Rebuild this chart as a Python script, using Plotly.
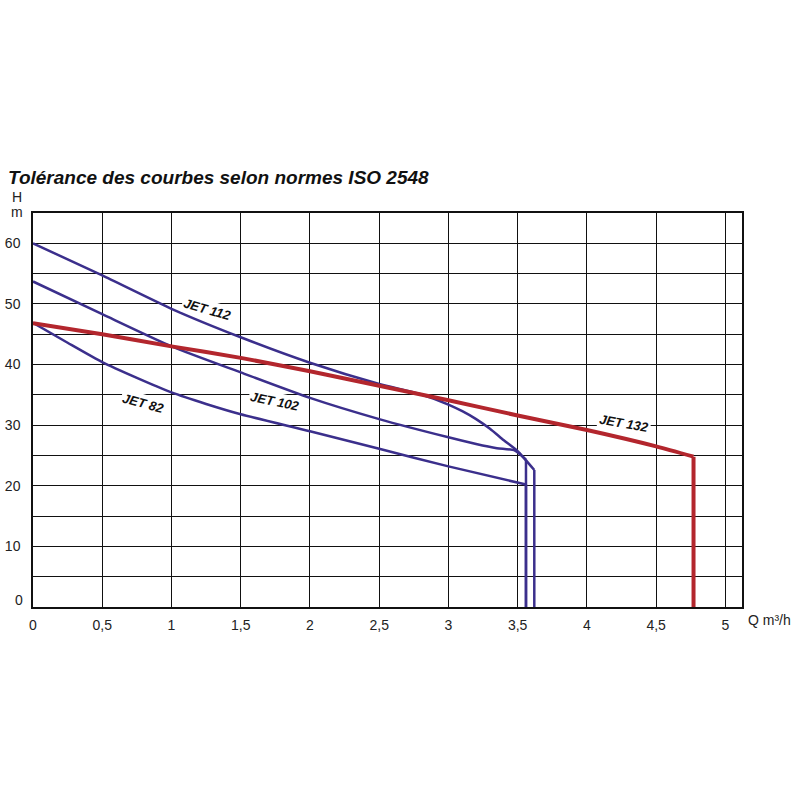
import plotly.graph_objects as go

# Q (m3/h) and H (m)
q_jet82 = [0, 0.25, 0.5, 0.75, 1, 1.25, 1.5, 2, 2.5, 3, 3.56, 3.56]
h_jet82 = [46.9, 43.6, 40.4, 37.8, 35.4, 33.5, 31.8, 29.0, 26.1, 23.2, 20.2, 0]

q_jet102 = [0, 0.5, 1, 1.5, 2, 2.5, 3, 3.2, 3.35, 3.48, 3.56, 3.56]
h_jet102 = [53.7, 48.3, 43, 38.7, 34.5, 31, 28, 26.9, 26.2, 25.8, 24.3, 0]

q_jet112 = [0, 0.5, 1, 1.5, 2, 2.5, 2.8, 3.0, 3.1, 3.2, 3.3, 3.4, 3.5, 3.62, 3.62]
h_jet112 = [60, 54.7, 49.2, 44.5, 40.3, 36.8, 35.1, 33.4, 32.3, 31.0, 29.4, 27.5, 25.7, 22.6, 0]

q_jet132 = [0, 0.5, 1, 1.5, 2, 2.5, 3, 3.5, 4, 4.5, 4.77, 4.77]
h_jet132 = [46.8, 45, 43, 41.1, 38.9, 36.5, 34.1, 31.6, 29.2, 26.5, 24.8, 0]

x_ticks = [0, 0.5, 1, 1.5, 2, 2.5, 3, 3.5, 4, 4.5, 5]
x_tick_text = ["0", "0,5", "1", "1,5", "2", "2,5", "3", "3,5", "4", "4,5", "5"]
y_ticks = [10, 20, 30, 40, 50, 60]

# label name, Q, H, angle
labels = [
    ("JET 112", 1.26, 49.1, 16),
    ("JET 102", 1.75, 33.9, 12),
    ("JET 82", 0.8, 33.6, 15),
    ("JET 132", 4.27, 30.2, 10),
]

BLUE = "#3b2f8c"
RED = "#b3262d"
FONT = "Liberation Sans, Arial, sans-serif"

fig = go.Figure()
series = [(q_jet82, h_jet82, BLUE, 2.5), (q_jet102, h_jet102, BLUE, 2.5),
          (q_jet112, h_jet112, BLUE, 2.5), (q_jet132, h_jet132, RED, 4)]
for q, h, col, w in series:
    # smooth curve down to the knee, then straight vertical drop
    fig.add_trace(go.Scatter(x=q[:-1], y=h[:-1], mode="lines",
                             line=dict(color=col, width=w, shape="spline", smoothing=0.6)))
    fig.add_trace(go.Scatter(x=q[-2:], y=h[-2:], mode="lines",
                             line=dict(color=col, width=w)))

for name, q, h, ang in labels:
    fig.add_annotation(x=q, y=h, text=f"<b><i>{name}</i></b>", showarrow=False,
                       textangle=ang, bgcolor="white", borderpad=1,
                       font=dict(family=FONT, size=13, color="#111"))

# the "0" label sits a bit above the bottom axis
fig.add_annotation(x=0, y=0, xref="paper", yref="y", text="0", showarrow=False,
                   xanchor="right", yanchor="middle", xshift=-8, yshift=7,
                   font=dict(family=FONT, size=14, color="#222"))

L, R, T, B = 33, 58, 213, 193
px_x = lambda p: (p - L) / (800 - L - R)
px_y = lambda p: (800 - B - p) / (800 - T - B)
for txt, xp, yp, anchor in [("H", 17, 197, "center"), ("m", 17, 212, "center"),
                            ("Q m³/h", 746, 620, "left")]:
    fig.add_annotation(x=px_x(xp), y=px_y(yp), xref="paper", yref="paper", text=txt,
                       showarrow=False, xanchor=anchor, yanchor="middle",
                       font=dict(family=FONT, size=14, color="#222"))

fig.update_layout(
    width=800, height=800,
    margin=dict(l=L, r=R, t=T, b=B),
    paper_bgcolor="white", plot_bgcolor="white",
    showlegend=False,
    font=dict(family=FONT, size=14, color="#222"),
    title=dict(text="<b><i>Tolérance des courbes selon normes ISO 2548</i></b>",
               x=0.01, xanchor="left", y=0.778, yanchor="middle",
               font=dict(family=FONT, size=19, color="#111")),
    xaxis=dict(range=[0, 5.12], tickvals=x_ticks, ticktext=x_tick_text,
               showgrid=True, gridcolor="#111", gridwidth=1.3,
               showline=True, linecolor="#111", linewidth=1.5, mirror=True,
               zeroline=False, ticks="", ticklabelstandoff=4, automargin=False),
    yaxis=dict(range=[0, 65], tickvals=y_ticks,
               showgrid=True, gridcolor="#111", gridwidth=1.3,
               minor=dict(dtick=5, showgrid=True, gridcolor="#111", gridwidth=1.3),
               showline=True, linecolor="#111", linewidth=1.5, mirror=True,
               zeroline=False, ticks="", ticklabelstandoff=8, automargin=False),
)

fig.write_html("out.html", config={"displayModeBar": False},
               post_script="document.body.style.margin='0';")
